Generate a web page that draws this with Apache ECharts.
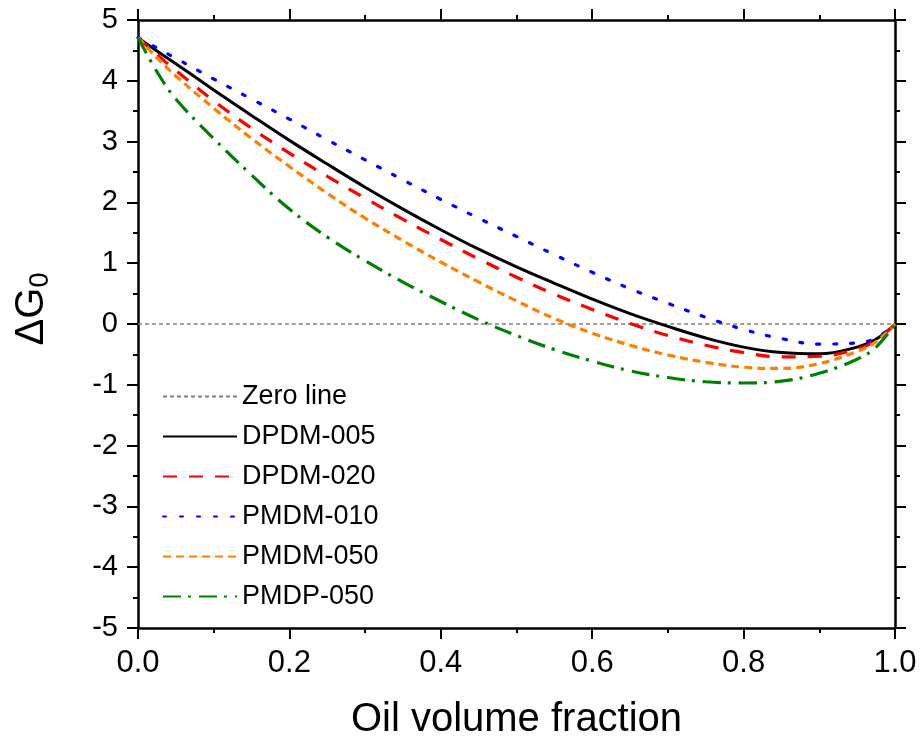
<!DOCTYPE html>
<html>
<head>
<meta charset="utf-8">
<script src="https://cdn.jsdelivr.net/npm/echarts@6/dist/echarts.min.js"></script>
<style>
html,body{margin:0;padding:0;background:#fff;}
#chart{width:922px;height:745px;}
</style>
</head>
<body>
<div id="chart"></div>
<script>
// Data
var xs = [0, 0.025, 0.05, 0.1, 0.15, 0.2, 0.25, 0.3, 0.35, 0.4, 0.45, 0.5, 0.55, 0.6, 0.65, 0.7, 0.75, 0.8, 0.85, 0.9, 0.95, 0.975, 1.0];
var dpdm005 = [4.71, 4.49, 4.28, 3.85, 3.43, 3.02, 2.63, 2.25, 1.89, 1.55, 1.23, 0.94, 0.67, 0.41, 0.17, -0.04, -0.23, -0.38, -0.47, -0.49, -0.38, -0.25, 0];
var dpdm020 = [4.71, 4.43, 4.17, 3.67, 3.22, 2.81, 2.43, 2.07, 1.72, 1.39, 1.07, 0.77, 0.49, 0.24, 0.01, -0.19, -0.35, -0.47, -0.54, -0.53, -0.41, -0.27, 0];
var pmdm010 = [4.71, 4.54, 4.37, 4.03, 3.70, 3.37, 3.03, 2.70, 2.37, 2.05, 1.74, 1.44, 1.14, 0.85, 0.58, 0.34, 0.11, -0.09, -0.24, -0.33, -0.31, -0.23, 0];
var pmdm050 = [4.71, 4.38, 4.08, 3.55, 3.05, 2.59, 2.15, 1.74, 1.37, 1.02, 0.69, 0.38, 0.09, -0.15, -0.35, -0.51, -0.63, -0.71, -0.73, -0.65, -0.45, -0.29, 0];
var pmdp050 = [4.71, 4.15, 3.70, 3.05, 2.45, 1.89, 1.43, 1.04, 0.69, 0.37, 0.07, -0.19, -0.42, -0.61, -0.77, -0.88, -0.95, -0.97, -0.94, -0.81, -0.58, -0.38, 0];
var zeroX = [0, 1];
var zeroY = [0, 0];
var seriesNames = ['Zero line', 'DPDM-005', 'DPDM-020', 'PMDM-010', 'PMDM-050', 'PMDP-050'];
var xName = 'Oil volume fraction';

function pairs(xv, yv) { return xv.map(function (x, i) { return [x, yv[i]]; }); }

var FONT = '"Liberation Sans", Arial, sans-serif';
var chart = echarts.init(document.getElementById('chart'), null, {renderer: 'canvas'});

var axisLineStyle = {color: '#000', width: 2.5};
function mkX(pos, showLabel) {
  return {
    type: 'value', position: pos, min: 0, max: 1, interval: 0.2,
    name: showLabel ? xName : '', nameLocation: 'middle', nameGap: 72,
    nameTextStyle: {fontFamily: FONT, fontSize: 40, color: '#000'},
    axisLine: {show: true, onZero: false, lineStyle: axisLineStyle},
    axisTick: {show: true, inside: false, length: 11, lineStyle: {color: '#000', width: 2}},
    minorTick: {show: true, splitNumber: 2, length: 5, lineStyle: {color: '#000', width: 2}},
    splitLine: {show: false}, minorSplitLine: {show: false},
    axisLabel: {show: showLabel, margin: 20, fontFamily: FONT, fontSize: 31, color: '#000',
      formatter: function (v) { return v.toFixed(1); }}
  };
}
function mkY(pos, showLabel) {
  return {
    type: 'value', position: pos, min: -5, max: 5, interval: 1,
    name: showLabel ? 'ΔG{s|0}' : '', nameLocation: 'middle', nameGap: 84,
    nameTextStyle: {fontFamily: FONT, fontSize: 40, color: '#000', padding: [0, 0, 0, 30],
      rich: {s: {fontFamily: FONT, fontSize: 27, color: '#000', padding: [18, 0, 0, 0]}}},
    axisLine: {show: true, onZero: false, lineStyle: axisLineStyle},
    axisTick: {show: true, inside: false, length: 11, lineStyle: {color: '#000', width: 2}},
    minorTick: {show: true, splitNumber: 2, length: 5, lineStyle: {color: '#000', width: 2}},
    splitLine: {show: false}, minorSplitLine: {show: false},
    axisLabel: {show: showLabel, margin: 20, fontFamily: FONT, fontSize: 29, color: '#000'}
  };
}

function line(name, data, color, type, width, cap) {
  return {
    name: name, type: 'line', data: data, xAxisIndex: 0, yAxisIndex: 0,
    showSymbol: false, symbol: 'none', smooth: 0.4, animation: false,
    lineStyle: {color: color, width: width, type: type, cap: cap || 'butt'},
    itemStyle: {color: color}
  };
}

var option = {
  backgroundColor: '#fff',
  animation: false,
  grid: {left: 138, right: 27, top: 20, bottom: 115, containLabel: false},
  xAxis: [mkX('bottom', true), mkX('top', false)],
  yAxis: [mkY('left', true), mkY('right', false)],
  legend: {
    orient: 'vertical', left: 157, top: 378,
    itemWidth: 74, itemHeight: 14, itemGap: 13,
    itemStyle: {opacity: 0},
    textStyle: {fontFamily: FONT, fontSize: 27, color: '#000', lineHeight: 27, padding: [0, 0, 0, 0]},
    data: seriesNames
  },
  series: [
    line(seriesNames[0], pairs(zeroX, zeroY), '#808080', [4, 3], 1.6),
    line(seriesNames[1], pairs(xs, dpdm005), '#000000', 'solid', 3),
    line(seriesNames[2], pairs(xs, dpdm020), '#ff0000', [14, 12], 3.2),
    line(seriesNames[3], pairs(xs, pmdm010), '#0000ff', [3, 14], 3.2, 'round'),
    line(seriesNames[4], pairs(xs, pmdm050), '#ff8000', [8, 5], 3.2),
    line(seriesNames[5], pairs(xs, pmdp050), '#008000', [18, 7, 3, 8], 3.2)
  ]
};
chart.setOption(option);
</script>
</body>
</html>
